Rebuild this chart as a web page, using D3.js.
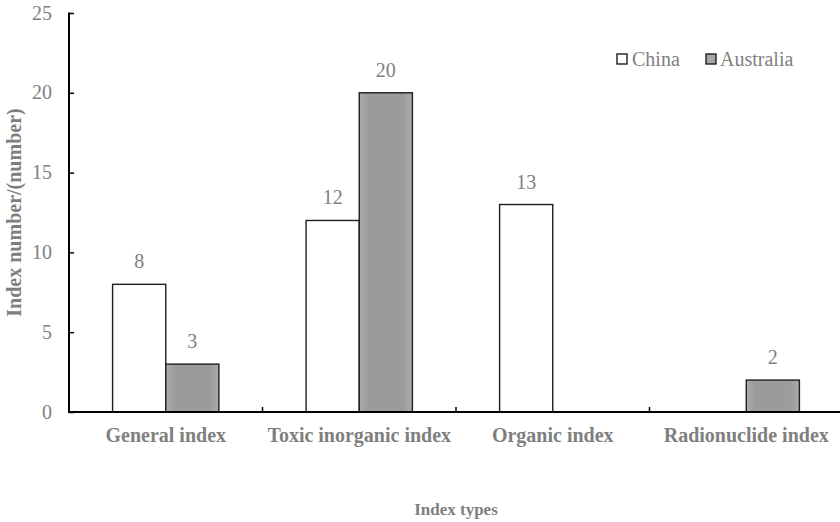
<!DOCTYPE html>
<html>
<head>
<meta charset="utf-8">
<script src="https://cdn.jsdelivr.net/npm/d3@7/dist/d3.min.js"></script>
<style>
  html, body { margin: 0; padding: 0; background: #fff; }
  svg { display: block; }
  text { font-family: "Liberation Serif", "Times New Roman", serif; fill: #7f7f7f; }
</style>
</head>
<body>
<svg id="chart" width="840" height="522"></svg>
<script>
// Index counts per index type
const categories = ["General index", "Toxic inorganic index", "Organic index", "Radionuclide index"];
const seriesNames = ["China", "Australia"];
const china = [8, 12, 13, 0];
const australia = [3, 20, 0, 2];
const yTicks = [0, 5, 10, 15, 20, 25];

const svg = d3.select("#chart");
const W = 840, H = 522;
const plotLeft = 69, plotRight = 843, plotTop = 13, plotBottom = 412;

const x = d3.scaleBand().domain(categories).range([plotLeft, plotRight]).padding(0);
const xs = d3.scaleBand().domain(seriesNames).range([0, x.bandwidth()]).paddingInner(0).paddingOuter(0.82);
const y = d3.scaleLinear().domain([0, 25]).range([plotBottom, plotTop]);

const fills = { China: "#ffffff", Australia: "url(#grayFill)" };

// soft gray fill for the second series
const defs = svg.append("defs");
const grad = defs.append("linearGradient").attr("id", "grayFill").attr("x1", 0).attr("x2", 1).attr("y1", 0).attr("y2", 0);
[[0, "#ababab"], [0.18, "#9b9b9b"], [0.82, "#9b9b9b"], [1, "#ababab"]].forEach(([o, c]) =>
  grad.append("stop").attr("offset", o).attr("stop-color", c));

const rows = categories.map((c, i) => ({ cat: c, values: [
  { name: "China", v: china[i] }, { name: "Australia", v: australia[i] }] }));

// bars
const groups = svg.append("g").selectAll("g").data(rows).join("g")
  .attr("transform", d => `translate(${x(d.cat)},0)`);
groups.selectAll("rect").data(d => d.values.filter(v => v.v > 0)).join("rect")
  .attr("x", d => xs(d.name))
  .attr("y", d => y(d.v))
  .attr("width", xs.bandwidth())
  .attr("height", d => y(0) - y(d.v))
  .attr("fill", d => fills[d.name])
  .attr("stroke", "#1e1e1e")
  .attr("stroke-width", 1.4);

// value labels
groups.selectAll("text.val").data(d => d.values.filter(v => v.v > 0)).join("text")
  .attr("class", "val")
  .attr("x", d => xs(d.name) + xs.bandwidth() / 2)
  .attr("y", d => y(d.v) - 16)
  .attr("text-anchor", "middle")
  .style("font-size", "20px")
  .text(d => d.v);

// y axis
const yAxis = svg.append("g").attr("transform", `translate(${plotLeft},0)`)
  .call(d3.axisRight(y).tickValues(yTicks).tickSize(5).tickFormat(""));
yAxis.select(".domain").remove();
yAxis.selectAll(".tick line").attr("stroke", "#000").attr("stroke-width", 1.5);
svg.append("line").attr("x1", plotLeft).attr("x2", plotLeft).attr("y1", plotTop - 0.5).attr("y2", plotBottom + 1)
  .attr("stroke", "#000").attr("stroke-width", 2);
svg.append("g").selectAll("text").data(yTicks).join("text")
  .attr("x", 52).attr("y", d => y(d) + 6.5)
  .attr("text-anchor", "end")
  .style("font-size", "20px")
  .text(d => d);

// x axis
const xAxis = svg.append("g").attr("transform", `translate(0,${plotBottom})`)
  .call(d3.axisTop(x).tickSize(0).tickFormat(""));
xAxis.select(".domain").remove();
const boundaries = categories.slice(1).map(c => x(c));
svg.append("g").selectAll("line").data(boundaries).join("line")
  .attr("x1", d => d).attr("x2", d => d).attr("y1", plotBottom).attr("y2", plotBottom - 5)
  .attr("stroke", "#000").attr("stroke-width", 1.5);
svg.append("line").attr("x1", plotLeft - 1).attr("x2", W).attr("y1", plotBottom).attr("y2", plotBottom)
  .attr("stroke", "#000").attr("stroke-width", 2);

svg.append("g").selectAll("text").data(categories).join("text")
  .attr("x", d => x(d) + x.bandwidth() / 2)
  .attr("y", 442)
  .attr("text-anchor", "middle")
  .style("font-size", "20px").style("font-weight", "bold")
  .text(d => d);

// axis titles
svg.append("text")
  .attr("x", (plotLeft + plotRight) / 2).attr("y", 515)
  .attr("text-anchor", "middle")
  .style("font-size", "17px").style("font-weight", "bold")
  .text("Index types");
svg.append("text")
  .attr("transform", `translate(21,${(plotTop + plotBottom) / 2}) rotate(-90)`)
  .attr("text-anchor", "middle")
  .style("font-size", "20px").style("font-weight", "bold")
  .text("Index number/(number)");

// legend
const legend = svg.append("g");
const legendItems = [{ name: "China", sx: 617, tx: 632 }, { name: "Australia", sx: 706, tx: 720 }];
legend.selectAll("rect").data(legendItems).join("rect")
  .attr("x", d => d.sx).attr("y", 54).attr("width", 10).attr("height", 10)
  .attr("fill", d => d.name === "China" ? "#fff" : "#a6a6a6")
  .attr("stroke", "#1e1e1e").attr("stroke-width", 1.4);
legend.selectAll("text").data(legendItems).join("text")
  .attr("x", d => d.tx).attr("y", 66)
  .style("font-size", "20px")
  .text(d => d.name);
</script>
</body>
</html>
